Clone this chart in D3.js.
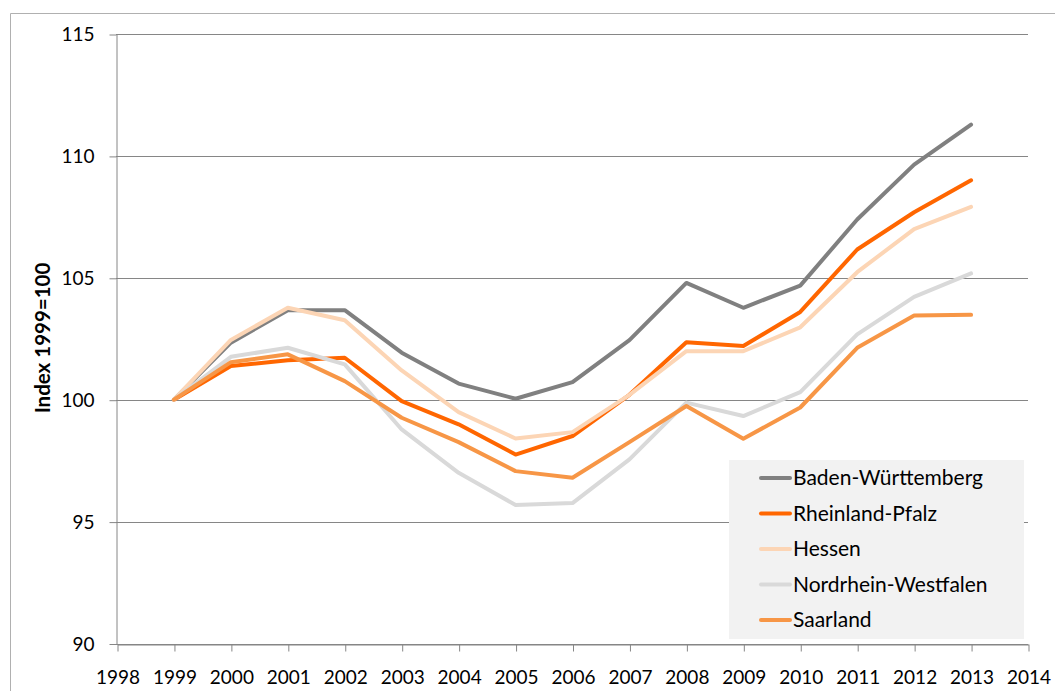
<!DOCTYPE html>
<html>
<head>
<meta charset="utf-8">
<script src="https://cdn.jsdelivr.net/npm/d3@7"></script>
<style>
  body { margin: 0; background: #fff; }
  svg text { font-family: Lato, "Open Sans", sans-serif; fill: #000; }
</style>
</head>
<body>
<div id="chart"></div>
<script>
// index values, 1999 = 100
var years = [1999, 2000, 2001, 2002, 2003, 2004, 2005, 2006, 2007, 2008, 2009, 2010, 2011, 2012, 2013];
var baden = [100, 102.34, 103.67, 103.67, 101.93, 100.66, 100.04, 100.72, 102.44, 104.79, 103.77, 104.68, 107.39, 109.64, 111.28];
var rheinland = [100, 101.38, 101.62, 101.72, 99.94, 98.99, 97.75, 98.51, 100.2, 102.36, 102.2, 103.6, 106.16, 107.69, 109.0];
var hessen = [100, 102.45, 103.77, 103.26, 101.2, 99.49, 98.41, 98.67, 100.2, 101.99, 101.99, 102.97, 105.23, 107.0, 107.91];
var nrw = [100, 101.76, 102.13, 101.45, 98.78, 97.0, 95.68, 95.76, 97.55, 99.88, 99.33, 100.31, 102.68, 104.22, 105.18];
var saarland = [100, 101.54, 101.86, 100.76, 99.26, 98.26, 97.07, 96.8, 98.26, 99.74, 98.4, 99.68, 102.13, 103.45, 103.48];

var seriesNames = ["Baden-Württemberg", "Rheinland-Pfalz", "Hessen", "Nordrhein-Westfalen", "Saarland"];
var seriesColors = ["#808080", "#ff6600", "#fcd5b5", "#d9d9d9", "#f79646"];
var seriesValues = [baden, rheinland, hessen, nrw, saarland];

var xTicks = d3.range(1998, 2015);
var yTicks = [90, 95, 100, 105, 110, 115];

var w = 1055;
var h = 691;
var plotLeft = 116, plotRight = 1028, plotTop = 34, plotBottom = 643.5;

var svg = d3.select("#chart")
  .append("svg")
  .attr("width", w)
  .attr("height", h);

// outer chart border (only top and left visible)
svg.append("path")
  .attr("d", "M10.5," + h + "V13.5H" + w)
  .attr("fill", "none")
  .attr("stroke", "#b0b0b0")
  .attr("stroke-width", 1);

var x = d3.scaleLinear().domain([1998, 2014]).range([plotLeft + 1, plotRight]);
var y = d3.scaleLinear().domain([90, 115]).range([plotBottom, plotTop]);

// gridlines
svg.append("g")
  .selectAll("line")
  .data(yTicks)
  .enter()
  .append("line")
  .attr("x1", plotLeft)
  .attr("x2", plotRight)
  .attr("y1", function(d) { return Math.round(y(d)) + 0.5; })
  .attr("y2", function(d) { return Math.round(y(d)) + 0.5; })
  .attr("stroke", "#868686");

// y axis
var yAxis = svg.append("g")
  .attr("transform", "translate(" + (plotLeft + 0.5) + ",0.5)")
  .call(d3.axisLeft(y).tickValues(yTicks).tickSize(7).tickPadding(15).tickSizeOuter(0));
yAxis.select(".domain").attr("stroke", "#868686");
yAxis.selectAll(".tick line").attr("stroke", "#868686");
yAxis.selectAll("text")
  .attr("font-size", 19)
  .attr("font-family", "Lato, sans-serif")
  .attr("fill", "#000");

// x axis
var xAxis = svg.append("g")
  .attr("transform", "translate(0.5," + (Math.round(plotBottom) + 0.5) + ")")
  .call(d3.axisBottom(x).tickValues(xTicks).tickFormat(d3.format("d")).tickSize(7).tickPadding(19).tickSizeOuter(0));
xAxis.select(".domain").attr("stroke", "#868686");
xAxis.selectAll(".tick line").attr("stroke", "#868686");
xAxis.selectAll("text")
  .attr("font-size", 19)
  .attr("font-family", "Lato, sans-serif")
  .attr("fill", "#000");

// y axis title
svg.append("text")
  .attr("transform", "translate(50,338) rotate(-90)")
  .attr("text-anchor", "middle")
  .attr("font-size", 20.5)
  .attr("font-weight", "bold")
  .text("Index 1999=100");

// lines
var line = d3.line()
  .x(function(d, i) { return x(years[i]); })
  .y(function(d) { return y(d); });

svg.append("g")
  .selectAll("path")
  .data(seriesValues)
  .enter()
  .append("path")
  .attr("d", line)
  .attr("fill", "none")
  .attr("stroke", function(d, i) { return seriesColors[i]; })
  .attr("stroke-width", 4)
  .attr("stroke-linejoin", "round")
  .attr("stroke-linecap", "round");

// legend
var legend = svg.append("g");
legend.append("rect")
  .attr("x", 729)
  .attr("y", 460)
  .attr("width", 295)
  .attr("height", 179)
  .attr("fill", "#f2f2f2");

var rows = legend.selectAll("g.row")
  .data(seriesNames)
  .enter()
  .append("g")
  .attr("class", "row")
  .attr("transform", function(d, i) { return "translate(0," + (478 + i * 35.5) + ")"; });

rows.append("line")
  .attr("x1", 761)
  .attr("x2", 790)
  .attr("stroke", function(d, i) { return seriesColors[i]; })
  .attr("stroke-width", 4)
  .attr("stroke-linecap", "round");

rows.append("text")
  .attr("x", 793)
  .attr("dy", "0.35em")
  .attr("font-size", 21)
  .text(function(d) { return d; });
</script>
</body>
</html>
